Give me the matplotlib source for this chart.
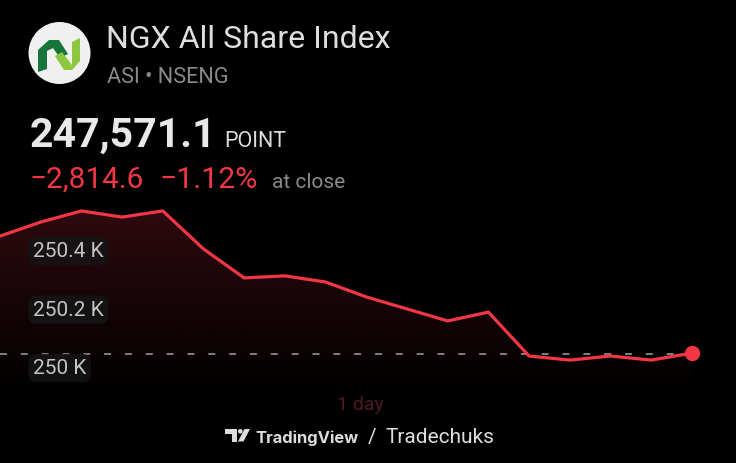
import numpy as np
import matplotlib
matplotlib.use("Agg")
import matplotlib.pyplot as plt
from matplotlib.patches import Polygon, Circle

plt.rcParams['font.family'] = ['Roboto', 'DejaVu Sans']
plt.rcParams['lines.scale_dashes'] = False

# ---- data ----
values = [250451, 250499, 250537, 250516, 250537, 250407, 250308, 250315,
          250294, 250243, 250202, 250161, 250191, 250041, 250027, 250041,
          250027, 250051]
prev_close = 250048
tick_values = [250000, 250200, 250400]
tick_labels = ["250 K", "250.2 K", "250.4 K"]
title = "NGX All Share Index"
subtitle = "ASI • NSENG"
last_price = "247,571.1"
unit = "POINT"
change_abs = "−2,814.6"
change_pct = "−1.12%"
status = "at close"
period = "1 day"

W, H = 736, 464
fig = plt.figure(figsize=(W / 100, H / 100), dpi=100, facecolor='black')

# overlay axes in pixel coordinates for header/footer
ov = fig.add_axes([0, 0, 1, 1], zorder=0)
ov.set_xlim(0, W)
ov.set_ylim(H, 0)
ov.axis('off')

# main chart axes: pixel rows 200..400
ax = fig.add_axes([0, (H - 400) / H, 1, 200 / H], zorder=1)
ax.patch.set_alpha(0)
ax.axis('off')
n = len(values)
step_px = 40.7
ax.set_xlim(0, W / step_px)
px_per_pt = 58.5 / 200.0
y_ref = 250000
ymin = y_ref - (400 - 369) / px_per_pt
ymax = y_ref + (369 - 200) / px_per_pt
ax.set_ylim(ymin, ymax)

x = np.arange(n)
red = '#f23645'

# gradient fill
poly = ax.fill_between(x, values, ymin, facecolor='none', edgecolor='none')
grad = np.linspace(1, 0, 256)
top = np.array([46, 10, 15]) / 255.0
img = np.zeros((256, 1, 4))
img[..., :3] = top
img[:, 0, 3] = grad
ytop = max(values)
ybot = y_ref - (395 - 369) / px_per_pt
im = ax.imshow(img, extent=[0, n - 1, ybot, ytop], aspect='auto',
               origin='upper', zorder=1, interpolation='bilinear')
im.set_clip_path(poly.get_paths()[0], transform=ax.transData)

# previous close dashed line
ax.hlines(prev_close, 0, n - 1 - 0.3, colors='#8a8a8a', linewidth=1.3,
          linestyles=(0, (5, 10)), zorder=2)

# line and last dot
ax.plot(x, values, color=red, linewidth=2.3, zorder=3, solid_joinstyle='round')
ax.plot([x[-1]], [values[-1]], 'o', color=red, markersize=10, zorder=4)

# y tick labels with rounded boxes
for v, lab in zip(tick_values, tick_labels):
    ax.text(33 / W, v, lab, transform=ax.get_yaxis_transform(),
            ha='left', va='center', fontsize=15, color='#c4c4c4', zorder=5,
            bbox=dict(boxstyle='round,pad=0.22,rounding_size=0.4',
                      facecolor='#151515', edgecolor='none', alpha=0.85))

# ---- header ----
ov.add_patch(Circle((59.5, 54), 31, facecolor='#f0f0f0', edgecolor='none'))
ov.add_patch(Polygon([(38, 51), (49, 41), (59, 41), (68, 55), (60, 59),
                      (53, 49), (47, 52), (47, 70), (38, 73)],
                     closed=True, facecolor='#16753a', edgecolor='none'))
ov.add_patch(Polygon([(72, 43), (80, 39), (80, 62), (72, 71), (64, 71),
                      (55, 57), (62, 53), (72, 66)],
                     closed=True, facecolor='#8dc63f', edgecolor='none'))

ov.text(106, 48, title, fontsize=23, color='#dedede', va='baseline', ha='left')
ov.text(107, 83, subtitle, fontsize=15.6, color='#8a8a8a', va='baseline', ha='left')
ov.text(30, 147, last_price, fontsize=29.5, fontweight='bold', color='#e8e8e8',
        va='baseline', ha='left')
ov.text(224, 147, unit, fontsize=15.5, color='#dcdcdc', va='baseline', ha='left')
ov.text(30, 188, change_abs, fontsize=21.4, color=red, va='baseline', ha='left')
ov.text(160, 188, change_pct, fontsize=21.8, color=red, va='baseline', ha='left')
ov.text(272, 188, status, fontsize=15, color='#8a8a8a', va='baseline', ha='left')

# ---- footer ----
ov.text(360, 410, period, fontsize=14, color='#4d1a20', va='baseline',
        ha='center', zorder=3)
# TradingView logo
ov.add_patch(Polygon([(225, 430), (237, 430), (237, 442.5), (232, 442.5),
                      (232, 435), (225, 435)],
                     closed=True, facecolor='#dcdcdc', edgecolor='none'))
ov.add_patch(Circle((240.3, 432.3), 2.3, facecolor='#dcdcdc', edgecolor='none'))
ov.add_patch(Polygon([(244.5, 430), (250, 430), (243.5, 442.5), (238, 442.5)],
                     closed=True, facecolor='#dcdcdc', edgecolor='none'))
ov.text(255, 443, "TradingView", fontsize=11.9, fontweight='bold',
        family=['Inter', 'DejaVu Sans'], color='#dcdcdc', va='baseline', ha='left')
ov.text(368, 443, "/", fontsize=15, color='#dcdcdc', va='baseline', ha='left')
ov.text(385, 443, "Tradechuks", fontsize=15, color='#dcdcdc', va='baseline', ha='left')

fig.savefig('out.png', dpi=100, facecolor='black')
